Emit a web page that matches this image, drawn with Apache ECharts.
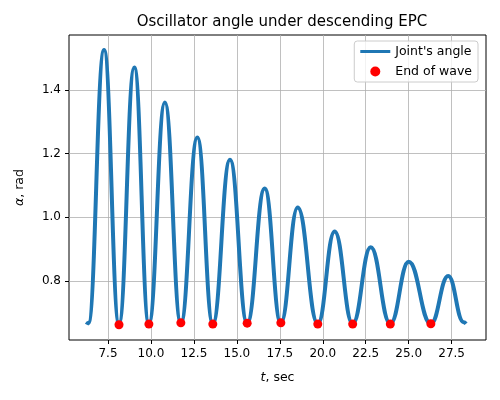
<!DOCTYPE html>
<html>
<head>
<meta charset="utf-8" />
<title>Oscillator angle</title>
<script src="https://cdn.jsdelivr.net/npm/echarts@6/dist/echarts.min.js"></script>
<style>
  html, body { margin: 0; padding: 0; background: #fff; }
  #chart { width: 500px; height: 400px; }
</style>
</head>
<body>
<div id="chart"></div>
<script>
// key points of the joint angle curve (troughs and peaks)
var angleT = [6.26, 6.36, 7.27, 8.14, 9.03, 9.88, 10.81, 11.74, 12.7, 13.6, 14.6, 15.6,
              16.62, 17.56, 18.54, 19.71, 20.69, 21.74, 22.79, 23.93, 25.0, 26.29, 27.3, 28.2, 28.34];
var angleV = [0.662, 0.668, 1.525, 0.665, 1.47, 0.665, 1.36, 0.667, 1.25, 0.665, 1.18, 0.667,
              1.09, 0.667, 1.03, 0.665, 0.955, 0.665, 0.905, 0.665, 0.86, 0.665, 0.815, 0.67, 0.665];
// end of wave markers
var endT = [8.14, 9.88, 11.74, 13.6, 15.6, 17.56, 19.71, 21.74, 23.93, 26.29];
var endV = [0.662, 0.664, 0.668, 0.664, 0.667, 0.668, 0.664, 0.664, 0.664, 0.665];
var xTicks = [7.5, 10, 12.5, 15, 17.5, 20, 22.5, 25, 27.5];
var yTicks = [0.8, 1.0, 1.2, 1.4];

var chart = echarts.init(document.getElementById('chart'));
var font = 'DejaVu Sans';

chart.setOption({
  animation: false,
  textStyle: { fontFamily: font },
  title: {
    text: 'Oscillator angle under descending EPC',
    left: 277, top: 10, textAlign: 'center',
    textStyle: { fontSize: 15, fontWeight: 'normal', color: '#000', fontFamily: font }
  },
  legend: {
    right: 22, top: 41, orient: 'vertical', align: 'left',
    itemGap: 7, itemWidth: 30, itemHeight: 10,
    backgroundColor: 'rgba(255,255,255,0.8)',
    borderColor: '#ccc', borderWidth: 1, borderRadius: 3, padding: [4, 6],
    textStyle: { fontSize: 12.5, color: '#000', fontFamily: font },
    data: [
      { name: "Joint's angle", icon: 'path://M0,3.5 L30,3.5 L30,6.5 L0,6.5 Z', itemStyle: { color: '#1f77b4' } },
      { name: 'End of wave', icon: 'path://M9,1 A4,4 0 1 1 9,9 A4,4 0 1 1 9,1 Z', itemStyle: { color: 'red' } }
    ]
  },
  grid: { left: 69, right: 14, top: 35, bottom: 60, show: true, borderColor: '#000', borderWidth: 1 },
  xAxis: {
    type: 'value', min: 5.23, max: 29.5,
    name: '{i|t}, sec', nameLocation: 'middle', nameGap: 31,
    nameTextStyle: { fontSize: 12.5, color: '#000', rich: { i: { fontStyle: 'italic', fontSize: 12.5, color: '#000' } } },
    axisLine: { show: false },
    axisTick: { show: true, length: 4, customValues: xTicks, lineStyle: { color: '#000' } },
    axisLabel: { customValues: xTicks, color: '#000', fontSize: 12,
      formatter: function (v) { return v.toFixed(1); } },
    splitLine: { show: true, lineStyle: { color: '#b0b0b0', width: 0.8 } }
  },
  yAxis: {
    type: 'value', min: 0.614, max: 1.572,
    name: '{i|α}, rad', nameLocation: 'middle', nameGap: 43,
    nameTextStyle: { fontSize: 12.5, color: '#000', rich: { i: { fontStyle: 'italic', fontSize: 12.5, color: '#000' } } },
    axisLine: { show: false },
    axisTick: { show: true, length: 4, customValues: yTicks, lineStyle: { color: '#000' } },
    axisLabel: { customValues: yTicks, color: '#000', fontSize: 12,
      formatter: function (v) { return v.toFixed(1); } },
    splitLine: { show: true, lineStyle: { color: '#b0b0b0', width: 0.8 } }
  },
  series: [
    {
      name: "Joint's angle", type: 'line', smooth: 0.45, smoothMonotone: 'x',
      showSymbol: false, symbol: 'none',
      lineStyle: { color: '#1f77b4', width: 4 },
      itemStyle: { color: '#1f77b4' },
      data: angleT.map(function (t, i) { return [t, angleV[i]]; }),
      z: 2
    },
    {
      name: 'End of wave', type: 'scatter', symbolSize: 9,
      itemStyle: { color: 'red', opacity: 1 },
      data: endT.map(function (t, i) { return [t, endV[i]]; }),
      z: 3
    }
  ]
});
</script>
</body>
</html>
